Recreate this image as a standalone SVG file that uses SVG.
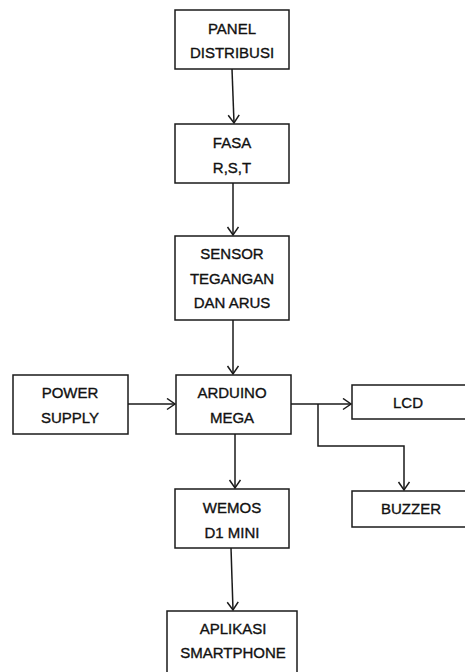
<svg xmlns="http://www.w3.org/2000/svg" width="465" height="672" viewBox="0 0 465 672">
<defs>
<style>
.box{fill:#fff;stroke:#1a1a1a;stroke-width:1.5}
.lbl{font-family:"Liberation Sans",Arial,sans-serif;font-size:15px;fill:#111;stroke:#111;stroke-width:0.35;text-anchor:middle}
.ln{fill:none;stroke:#1a1a1a;stroke-width:1.5}
</style>
<marker id="arr" markerUnits="userSpaceOnUse" markerWidth="12" markerHeight="14" refX="9" refY="6" orient="auto">
<path d="M1,0.5 L9,6 L1,11.5" fill="none" stroke="#1a1a1a" stroke-width="1.5"/>
</marker>
</defs>
<rect width="465" height="672" fill="#fff"/>
<g id="connectors">
<path class="ln" d="M232,69 L234,123" marker-end="url(#arr)"/>
<path class="ln" d="M233,183 L233,235" marker-end="url(#arr)"/>
<path class="ln" d="M233,320 L233,374" marker-end="url(#arr)"/>
<path class="ln" d="M128,404 L175,404" marker-end="url(#arr)"/>
<path class="ln" d="M291,404 L351,404" marker-end="url(#arr)"/>
<path class="ln" d="M318,404 L318,446 L404,446 L404,490" marker-end="url(#arr)"/>
<path class="ln" d="M235,434 L235,488" marker-end="url(#arr)"/>
<path class="ln" d="M231,548 L233,610" marker-end="url(#arr)"/>
</g>
<g id="panel">
<rect class="box" x="175" y="10" width="114" height="59"/>
<text class="lbl" x="232" y="34">PANEL</text>
<text class="lbl" x="232" y="58">DISTRIBUSI</text>
</g>
<g id="fasa">
<rect class="box" x="175" y="124" width="114" height="59"/>
<text class="lbl" x="232" y="148">FASA</text>
<text class="lbl" x="232" y="173">R,S,T</text>
</g>
<g id="sensor">
<rect class="box" x="175" y="236" width="114" height="84"/>
<text class="lbl" x="232" y="259">SENSOR</text>
<text class="lbl" x="232" y="284">TEGANGAN</text>
<text class="lbl" x="232" y="308">DAN ARUS</text>
</g>
<g id="power">
<rect class="box" x="13" y="375" width="115" height="59"/>
<text class="lbl" x="70" y="398">POWER</text>
<text class="lbl" x="70" y="423">SUPPLY</text>
</g>
<g id="arduino">
<rect class="box" x="176" y="375" width="115" height="59"/>
<text class="lbl" x="232" y="398">ARDUINO</text>
<text class="lbl" x="232" y="423">MEGA</text>
</g>
<g id="lcd">
<rect class="box" x="352" y="385" width="120" height="34"/>
<text class="lbl" x="408" y="408">LCD</text>
</g>
<g id="buzzer">
<rect class="box" x="352" y="491" width="120" height="36"/>
<text class="lbl" x="411" y="514">BUZZER</text>
</g>
<g id="wemos">
<rect class="box" x="175" y="489" width="114" height="59"/>
<text class="lbl" x="232" y="513">WEMOS</text>
<text class="lbl" x="232" y="538">D1 MINI</text>
</g>
<g id="aplikasi">
<rect class="box" x="167" y="611" width="130" height="70"/>
<text class="lbl" x="233" y="634">APLIKASI</text>
<text class="lbl" x="233" y="658">SMARTPHONE</text>
</g>
</svg>
